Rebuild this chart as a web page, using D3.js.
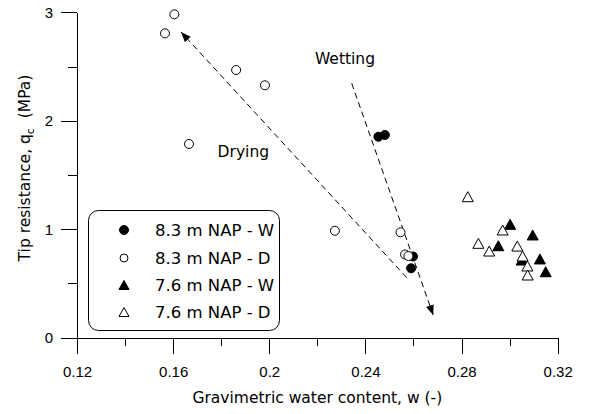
<!DOCTYPE html>
<html>
<head>
<meta charset="utf-8">
<script src="https://cdn.jsdelivr.net/npm/d3@7"></script>
<style>
  html, body { margin: 0; padding: 0; background: #fff; }
  svg { display: block; font-family: 'DejaVu Sans', Verdana, sans-serif; }
  .axis .domain, .axis line { stroke: #000; stroke-width: 1; shape-rendering: crispEdges; }
  .axis text { fill: #000; font-size: 15px; }
</style>
</head>
<body>
<div id="chart"></div>
<script>
(function () {
  'use strict';

  // ── Data ────────────────────────────────────────────────────────────────────
  // 8.3 m NAP, wetting (filled circles)
  const w83W = [0.2454, 0.2481, 0.2598, 0.2590];
  const q83W = [1.853, 1.869, 0.749, 0.640];
  // 8.3 m NAP, drying (open circles)
  const w83D = [0.1605, 0.1566, 0.1862, 0.1982, 0.1666, 0.2273, 0.2546, 0.2565, 0.2579];
  const q83D = [2.981, 2.806, 2.468, 2.327, 1.786, 0.986, 0.972, 0.767, 0.753];
  // 7.6 m NAP, wetting (filled triangles)
  const w76W = [0.3002, 0.3096, 0.2953, 0.3126, 0.3150, 0.3050];
  const q76W = [1.045, 0.947, 0.848, 0.726, 0.608, 0.716];
  // 7.6 m NAP, drying (open triangles)
  const w76D = [0.2826, 0.2971, 0.2870, 0.2915, 0.3032, 0.3054, 0.3074, 0.3075];
  const q76D = [1.300, 0.993, 0.870, 0.799, 0.845, 0.753, 0.661, 0.578];

  const seriesNames = ['8.3 m NAP - W', '8.3 m NAP - D', '7.6 m NAP - W', '7.6 m NAP - D'];

  const xTicks      = [0.12, 0.16, 0.2, 0.24, 0.28, 0.32];
  const xTickLabels = ['0.12', '0.16', '0.2', '0.24', '0.28', '0.32'];
  const xMinor      = [0.14, 0.18, 0.22, 0.26, 0.30];
  const yTicks      = [0, 1, 2, 3];
  const yMinor      = [0.5, 1.5, 2.5];

  // arrows: [start, tip] in (w, qc)
  const dryingArrow  = [[0.2572, 0.553], [0.1633, 2.818]];
  const wettingArrow = [[0.2343, 2.345], [0.2682, 0.209]];
  const notes = [
    { text: 'Wetting', w: 0.2190, q: 2.523 },
    { text: 'Drying',  w: 0.1785, q: 1.670 },
  ];

  // ── Layout ──────────────────────────────────────────────────────────────────
  const W = 606, H = 414;
  const plot = { left: 77, right: 557.7, top: 12.3, bottom: 337.7 };

  const svg = d3.select('#chart').append('svg')
    .attr('width', W).attr('height', H)
    .attr('viewBox', `0 0 ${W} ${H}`);

  const x = d3.scaleLinear().domain([0.12, 0.32]).range([plot.left, plot.right]);
  const y = d3.scaleLinear().domain([0, 3]).range([plot.bottom, plot.top]);

  // Axes — major ticks long, minor ticks short, both outward
  svg.append('g').attr('class', 'axis')
    .attr('transform', `translate(0,${plot.bottom})`)
    .call(d3.axisBottom(x).tickValues(xTicks).tickSize(16).tickSizeOuter(0).tickPadding(13)
      .tickFormat((d, i) => xTickLabels[i]));
  svg.append('g').attr('class', 'axis')
    .attr('transform', `translate(0,${plot.bottom})`)
    .call(d3.axisBottom(x).tickValues(xMinor).tickSize(8).tickSizeOuter(0).tickFormat(''))
    .select('.domain').remove();

  svg.append('g').attr('class', 'axis')
    .attr('transform', `translate(${plot.left},0)`)
    .call(d3.axisLeft(y).tickValues(yTicks).tickSize(16).tickSizeOuter(0).tickPadding(8)
      .tickFormat(d3.format('d')));
  svg.append('g').attr('class', 'axis')
    .attr('transform', `translate(${plot.left},0)`)
    .call(d3.axisLeft(y).tickValues(yMinor).tickSize(9).tickSizeOuter(0).tickFormat(''))
    .select('.domain').remove();

  // Axis titles
  svg.append('text')
    .attr('x', (plot.left + plot.right) / 2).attr('y', 403)
    .attr('text-anchor', 'middle').attr('font-size', 15.5)
    .text('Gravimetric water content, w (-)');

  const yTitle = svg.append('text')
    .attr('transform', `translate(30,168) rotate(-90)`)
    .attr('text-anchor', 'middle').attr('font-size', 15.5)
    .style('white-space', 'pre');
  yTitle.append('tspan').text('Tip resistance, q');
  yTitle.append('tspan').attr('font-size', 11).attr('dy', 4).text('c');
  yTitle.append('tspan').attr('dy', -4).text('  (MPa)');

  // ── Arrows ──────────────────────────────────────────────────────────────────
  svg.append('defs').append('marker')
    .attr('id', 'head').attr('viewBox', '0 0 10 8')
    .attr('refX', 10).attr('refY', 4)
    .attr('markerWidth', 10).attr('markerHeight', 8)
    .attr('markerUnits', 'userSpaceOnUse').attr('orient', 'auto')
    .append('path').attr('d', 'M0,0L10,4L0,8Z').attr('fill', '#000');

  [dryingArrow, wettingArrow].forEach(a => {
    svg.append('line')
      .attr('x1', x(a[0][0])).attr('y1', y(a[0][1]))
      .attr('x2', x(a[1][0])).attr('y2', y(a[1][1]))
      .attr('stroke', '#000').attr('stroke-width', 1)
      .attr('stroke-dasharray', '6,4')
      .attr('marker-end', 'url(#head)');
  });

  notes.forEach(n => {
    svg.append('text')
      .attr('x', x(n.w)).attr('y', y(n.q))
      .attr('font-size', 15.5).text(n.text);
  });

  // ── Markers ─────────────────────────────────────────────────────────────────
  const tri = (a, b) => `M0,${-b}L${a},${b}L${-a},${b}Z`;
  const zip = (ws, qs) => ws.map((w, i) => ({ w, q: qs[i] }));

  function circles(data, filled) {
    svg.append('g').selectAll('circle').data(data).join('circle')
      .attr('cx', d => x(d.w)).attr('cy', d => y(d.q)).attr('r', 4.5)
      .attr('fill', filled ? '#000' : '#fff')
      .attr('stroke', '#000').attr('stroke-width', 1);
  }
  function triangles(data, filled) {
    svg.append('g').selectAll('path').data(data).join('path')
      .attr('transform', d => `translate(${x(d.w)},${y(d.q)})`)
      .attr('d', tri(5.5, 5))
      .attr('fill', filled ? '#000' : '#fff')
      .attr('stroke', '#000').attr('stroke-width', 1)
      .attr('stroke-linejoin', 'miter');
  }

  circles(zip(w83W, q83W), true);
  circles(zip(w83D, q83D), false);
  triangles(zip(w76W, q76W), true);
  triangles(zip(w76D, q76D), false);

  // ── Legend ──────────────────────────────────────────────────────────────────
  const lg = svg.append('g');
  lg.append('rect')
    .attr('x', 88.5).attr('y', 210.5).attr('width', 191).attr('height', 120)
    .attr('rx', 10).attr('ry', 10)
    .attr('fill', '#fff').attr('stroke', '#000').attr('stroke-width', 1);

  const rowY = [230, 258, 285, 312];
  seriesNames.forEach((name, i) => {
    const filled = i % 2 === 0;
    if (i < 2) {
      lg.append('circle').attr('cx', 124).attr('cy', rowY[i]).attr('r', filled ? 4.5 : 4)
        .attr('fill', filled ? '#000' : '#fff').attr('stroke', '#000');
    } else {
      lg.append('path').attr('transform', `translate(124,${rowY[i]})`)
        .attr('d', tri(5, 4.5))
        .attr('fill', filled ? '#000' : '#fff').attr('stroke', '#000');
    }
    lg.append('text').attr('x', 155).attr('y', rowY[i] + 6)
      .attr('font-size', 16.5).text(name);
  });
})();
</script>
</body>
</html>
